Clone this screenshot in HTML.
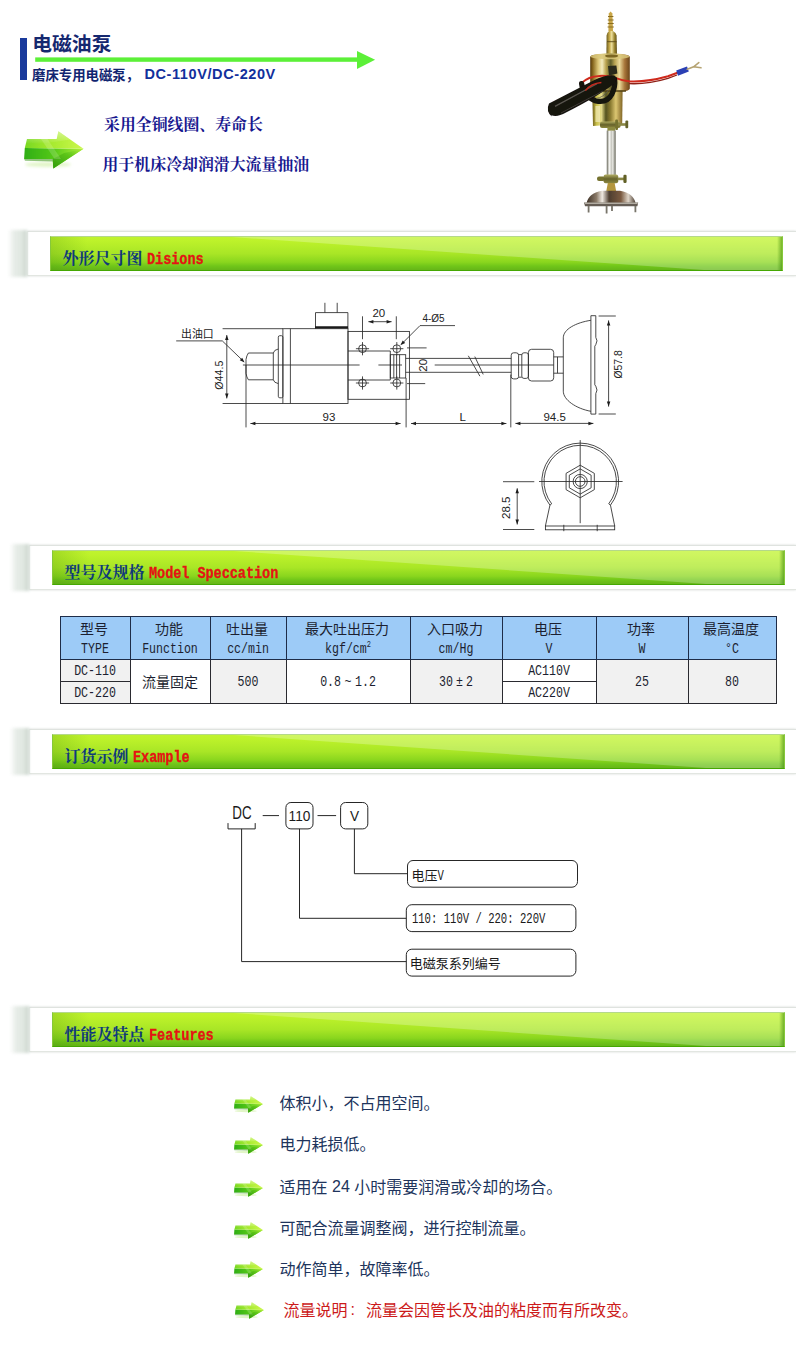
<!DOCTYPE html>
<html lang="zh-CN"><head><meta charset="utf-8"><title>电磁油泵 DC-110V/DC-220V</title>
<style>
*{box-sizing:border-box}
html,body{margin:0;padding:0;background:#fff}
html{width:796px;height:1364px;overflow:hidden}
body{width:796px;height:1364px;position:relative;overflow:hidden;font-family:"Liberation Sans",sans-serif;color:#222}
.abs{position:absolute}
.cj{position:absolute;display:block;white-space:nowrap;font-family:"Liberation Sans","Noto Sans CJK SC",sans-serif}
.cj.serif{font-family:"Liberation Serif","Noto Serif CJK SC",serif;font-weight:bold}
.lat{position:absolute;white-space:nowrap;line-height:1}
.hd{position:absolute;left:27px;right:0;height:45px;background:#fff;border-top:1px solid #dfe3df;border-bottom:1px solid #e2e6e1;border-left:1px solid #e9ede9;box-shadow:0 0 2px rgba(120,135,125,.32)}
.hd:before{content:"";position:absolute;left:-20px;top:-2px;bottom:-2px;width:19px;filter:blur(1.4px);background:linear-gradient(90deg,rgba(228,234,229,0) 0%,rgba(229,235,230,.95) 32%,#e0e7e1 72%,#c9d4cb 100%)}
.hd .bar{position:absolute;left:22px;top:4px;width:733px;height:35px;overflow:hidden;border:1px solid #86c83a;border-top-color:#b4d88a;border-bottom:1.5px solid #45a802;
 background:linear-gradient(180deg,#c0f32e 0%,#bdf22a 12%,#a9e626 50%,#8ad61e 76%,#70c619 88%,#66b618 100%)}
.hd .bar:before{content:"";position:absolute;left:0;top:0;width:36px;height:100%;background:linear-gradient(90deg,rgba(60,130,10,.22),rgba(60,130,10,0))}
.hd .bar:after{content:"";position:absolute;right:0;top:0;width:5px;height:100%;background:linear-gradient(270deg,rgba(50,130,0,.55),rgba(60,130,10,0))}
.hd .mono{position:absolute;font-family:"Liberation Mono",monospace;font-weight:bold;color:#e41414;white-space:nowrap;line-height:1;transform-origin:0 100%}

.hd .gloss{position:absolute;left:0;top:0;width:100%;height:100%;background:rgba(255,255,255,.25);clip-path:polygon(180px 0,100% 0,100% 100%,653px 100%)}

.spec{position:absolute;left:59.5px;top:616px;border-collapse:collapse;table-layout:fixed;width:716px}
.spec td{position:relative;padding:0;border:1px solid #2a2a30;background:#fff}
.spec tr.h td{height:43px;background:#9dcbf7;border-color:#1e2c48}
.spec tr.r td{height:22px}
.spec td.g{background:#f1f1f1}
.spec .m{position:absolute;left:50%;white-space:nowrap;line-height:1;font-family:"Liberation Mono",monospace;font-size:11.6px;color:#1c1f30;transform:translateX(-50%) scaleY(1.26);transform-origin:50% 100%}
</style></head>
<body>
<div class="abs" style="left:20.4px;top:38px;width:7px;height:41.6px;background:#1a3a9c"></div>
<span class="cj" style="left:32.3px;top:33.38px;width:79.2px;height:22.97px;line-height:22.97px;font-size:19.8px;font-weight:bold;color:#15286f">电磁油泵</span>
<svg class="abs" style="left:33px;top:48px" width="346" height="24" viewBox="0 0 346 24"><rect x="2.2" y="9.4" width="324" height="4.4" fill="#5cf038"/><path d="M324 2.9 L342.1 11.8 L324 20.9Z" fill="#5cf038"/></svg>
<span class="cj" style="left:32px;top:68.21px;width:108.16px;height:15.54px;line-height:15.54px;font-size:13.4px;font-weight:bold;color:#112570">磨床专用电磁泵，</span>
<span class="cj" style="left:144.4px;top:66.15px;width:132.19px;height:16.82px;line-height:16.82px;font-size:14.5px;font-weight:bold;letter-spacing:.6px;color:#12309c">DC-110V/DC-220V</span>
<svg width="0" height="0" style="position:absolute" aria-hidden="true"><defs>
<linearGradient id="aT" x1="0" y1="0" x2="1" y2="0"><stop offset="0" stop-color="#78d822"/><stop offset=".45" stop-color="#a6ea2e"/><stop offset="1" stop-color="#ccf84e"/></linearGradient>
<linearGradient id="aF" x1="0" y1="0" x2="1" y2="0"><stop offset="0" stop-color="#2fae12"/><stop offset=".5" stop-color="#55c818"/><stop offset="1" stop-color="#b2f03c"/></linearGradient>
<linearGradient id="aU" x1="0" y1="1" x2="1" y2="0"><stop offset="0" stop-color="#2f9a0c"/><stop offset=".6" stop-color="#5fc71a"/><stop offset="1" stop-color="#b6f23e"/></linearGradient>
<linearGradient id="aG" x1="0" y1="0" x2="0" y2="1"><stop offset="0" stop-color="#fff" stop-opacity=".45"/><stop offset="1" stop-color="#fff" stop-opacity="0"/></linearGradient>
<filter id="aB" x="-20%" y="-50%" width="140%" height="200%"><feGaussianBlur stdDeviation="1.6"/></filter>
<filter id="aS" x="-5%" y="-5%" width="110%" height="110%"><feGaussianBlur stdDeviation=".35"/></filter>
<symbol id="arrow3d" viewBox="0 0 62 46" preserveAspectRatio="none">
 <ellipse cx="24" cy="33.5" rx="23" ry="2.6" fill="#c4ec90" opacity=".5" filter="url(#aB)"/>
 <g filter="url(#aS)">
 <path d="M0.8 16.9 L59.5 17.7 L29.3 37.4 L28.7 28 L0.1 28Z" fill="url(#aF)"/>
 <path d="M28.7 28 L29.3 37.4 L59.5 17.7 L40 22Z" fill="url(#aU)"/>
 <path d="M3 8.1 L32.7 8.1 L34.4 0.3 L59.5 17.7 L0.8 16.9Z" fill="url(#aT)"/>
 <path d="M3 8.1 L32.7 8.1 L34.4 0.3 L46 8.6 L20 12.8 L1.8 12.8Z" fill="url(#aG)"/>
 <path d="M0.1 28 L28.7 28 L28.9 30.4 L1 29.8Z" fill="#2a8c0a" opacity=".5"/>
 <path d="M17 8.1 L23.5 8.1 L37 28 L30.5 28Z" fill="#fff" opacity=".16"/>
 </g>
</symbol></defs></svg>
<svg class="abs" style="left:24px;top:131px" width="62" height="46"><use href="#arrow3d" width="62" height="46"/></svg>
<span class="cj serif" style="left:104px;top:116.41px;width:159px;height:18.44px;line-height:18.44px;font-size:15.9px;color:#17178f">采用全铜线圈、寿命长</span>
<span class="cj serif" style="left:102.6px;top:156.41px;width:206.7px;height:18.44px;line-height:18.44px;font-size:15.9px;color:#17178f">用于机床冷却润滑大流量抽油</span>
<svg class="abs" style="left:530px;top:0" width="200" height="226" viewBox="530 0 200 226" role="img" aria-label="电磁油泵">
<defs>
<linearGradient id="pB" x1="0" y1="0" x2="1" y2="0"><stop offset="0" stop-color="#553a0e"/><stop offset=".07" stop-color="#8a6a22"/><stop offset=".2" stop-color="#dcc676"/><stop offset=".3" stop-color="#f3ebbe"/><stop offset=".4" stop-color="#b9a24e"/><stop offset=".52" stop-color="#60602c"/><stop offset=".62" stop-color="#b9a452"/><stop offset=".74" stop-color="#ead99a"/><stop offset=".87" stop-color="#a8763a"/><stop offset="1" stop-color="#6a4418"/></linearGradient>
<linearGradient id="pB2" x1="0" y1="0" x2="1" y2="0"><stop offset="0" stop-color="#6b5a1c"/><stop offset=".14" stop-color="#c9c04a"/><stop offset=".3" stop-color="#e6dc8a"/><stop offset=".45" stop-color="#55521f"/><stop offset=".6" stop-color="#8a7a30"/><stop offset=".78" stop-color="#dcc672"/><stop offset="1" stop-color="#806424"/></linearGradient>
<linearGradient id="pB3" x1="0" y1="0" x2="1" y2="0"><stop offset="0" stop-color="#6b5a1c"/><stop offset=".3" stop-color="#c9ad4c"/><stop offset=".5" stop-color="#ecdf9e"/><stop offset=".75" stop-color="#a08a34"/><stop offset="1" stop-color="#5e4e18"/></linearGradient>
<linearGradient id="pO" x1="0" y1="0" x2="0" y2="1"><stop offset="0" stop-color="#b0ac62"/><stop offset=".5" stop-color="#66622a"/><stop offset="1" stop-color="#8c8840"/></linearGradient>
<linearGradient id="pG" x1="0" y1="0" x2="1" y2="0"><stop offset="0" stop-color="#8e8e84"/><stop offset=".3" stop-color="#f4f4f0"/><stop offset=".7" stop-color="#deded8"/><stop offset="1" stop-color="#86867c"/></linearGradient>
<linearGradient id="pD" x1="0" y1="0" x2="1" y2="0"><stop offset="0" stop-color="#3c3026"/><stop offset=".2" stop-color="#8a7a68"/><stop offset=".32" stop-color="#efe9e2"/><stop offset=".46" stop-color="#4e3e30"/><stop offset=".7" stop-color="#7a5a40"/><stop offset=".85" stop-color="#ded4c8"/><stop offset="1" stop-color="#4a3c30"/></linearGradient>
<filter id="pF" x="-5%" y="-5%" width="110%" height="110%"><feGaussianBlur stdDeviation=".6"/></filter>
</defs>
<g filter="url(#pF)">
 <path d="M608.4 31 L608.8 13.4 L610.6 11.4 L612.4 13.4 L613 31Z" fill="#c9a646"/>
 <path d="M608 16.5h5.4M607.8 20h5.8M607.7 23.5h6M607.6 27h6.2" stroke="#8a6e24" stroke-width="1.1"/>
 <path d="M606.4 54.5 L606.6 35.4 Q606.8 32.6 609 31 L613 31 Q616.2 32.6 616.6 35.4 L617 54.5Z" fill="url(#pB3)"/>
 <path d="M607 41.6h9.6" stroke="#5e4c18" stroke-width="1.3" opacity=".75"/>
 <path d="M590.2 57 Q590.2 53.4 610.2 53.4 Q629.8 53.4 629.8 57 L629.8 88.4 Q629.8 92 610.2 92 Q590.2 92 590.2 88.4Z" fill="url(#pB)"/>
 <ellipse cx="610" cy="56.4" rx="19.6" ry="2.8" fill="#d9c77a" opacity=".85"/>
 <ellipse cx="611.6" cy="56" rx="6.6" ry="1.6" fill="#7c6622"/>
 <path d="M592.2 90.4 L622.6 90.4 L622.2 124 L593 126 Z" fill="url(#pB2)"/>
 <path d="M592 91 L626 91" stroke="#4c3c12" stroke-width="1.8" opacity=".7"/>
 <rect x="595.4" y="106" width="4.6" height="16" fill="#f4ecc0" opacity=".65"/>
 <path d="M608 66 L616.4 65.6 L617.4 73.6 L609 75.4Z" fill="#2a2a1a"/>
 <rect x="600" y="121.4" width="20.6" height="6.6" rx="2" fill="url(#pO)"/>
 <rect x="615.2" y="119.4" width="2.8" height="10.6" rx="1" fill="#74722e"/>
 <rect x="618" y="123.2" width="8.4" height="2.6" fill="#8a8844"/>
 <rect x="625.4" y="120.6" width="2.8" height="7.6" rx="1" fill="#64622a"/>
 <rect x="607.4" y="127" width="7.6" height="5" fill="#8c8a40"/>
 <rect x="607" y="130.6" width="8.4" height="45" fill="url(#pG)"/>
 <path d="M607.2 130.6v45M615.2 130.6v45" stroke="#86867a" stroke-width="1"/>
 <path d="M611.2 131v44" stroke="#b4b4aa" stroke-width=".8"/>
 <rect x="597" y="176.6" width="8" height="4.4" rx="2" fill="#74722e"/>
 <rect x="603.6" y="174.6" width="14.6" height="8.6" rx="2" fill="url(#pO)"/>
 <rect x="617.6" y="177.6" width="7" height="2.6" fill="#8a8844"/>
 <rect x="623.4" y="174.8" width="3.2" height="8.2" rx="1.2" fill="#626028"/>
 <path d="M607.8 183 L614.6 183 L616.2 191.6 L606.2 191.6Z" fill="#b4963e"/>
 <path d="M586.6 203.4 Q588 193.6 602 190.8 L620 190.8 Q634 193.6 635.6 203.4Z" fill="url(#pD)"/>
 <path d="M584 202.6 L638.2 202.6 L637.4 206.2 L585 206.2Z" fill="#655d54"/>
 <path d="M585 203.2 L637.6 203.2" stroke="#d6d0c6" stroke-width="1"/>
 <path d="M588.6 206v6.4M606.6 206v7.4M612 206v5M635.4 206v6.2" stroke="#78746a" stroke-width="1.8"/>
 <path d="M629 81.6 Q647 82.6 668 76.3 L677 73" fill="none" stroke="#8e2018" stroke-width="1.3" transform="translate(0 2)"/>
 <path d="M581.7 83 Q588 76.4 599.8 75.9 Q608 75.6 613.7 77.4 Q622 80.6 629.7 81.4 Q647 82.2 668 76.3 L677.4 72.8" fill="none" stroke="#cf2a1e" stroke-width="2" stroke-linecap="round"/>
 <path d="M676.2 70.4 L687 66.4 L688.8 71.6 L678 75.8Z" fill="#2b3fb4"/>
 <path d="M687.2 69.2 L693.6 66.8 L698.8 62.6 M693.6 66.8 L701 67.8" fill="none" stroke="#b5a372" stroke-width="1.6" stroke-linecap="round"/>
 <path d="M581.6 83.6 Q583 96 596 101 Q607 103.4 612 94 Q615.6 86 614.6 79" fill="none" stroke="#15120e" stroke-width="5.2" stroke-linecap="round"/>
 <path d="M551.8 116.6 Q545.6 111 549 103.4 L594 80.2 Q606 74.4 614.4 75.4 Q618.6 79.4 613 84.6 Q598 96.4 566 112.6 Q557 117.6 551.4 115.2Z" fill="#15120e"/>
 <path d="M555 106.4 L597 83.8" stroke="#66635a" stroke-width="1.3" opacity=".85"/>
 <path d="M561 113 L603 91" stroke="#46433c" stroke-width="1" opacity=".85"/>
 <path d="M585.4 90.6 Q591 83.6 601.4 82.6" fill="none" stroke="#c42a1e" stroke-width="1.5"/>
 <path d="M596 98.4 Q603 98 608.6 90" fill="none" stroke="#5c5950" stroke-width="1" opacity=".8"/>
</g></svg>
<div class="hd" style="top:231px;left:27px"><div class="bar"><div class="gloss"></div></div><span class="cj serif" style="left:34.6px;top:18.22px;width:80px;height:18.56px;line-height:18.56px;font-size:16px;color:#0f3a7a">外形尺寸图</span><span class="mono" style="left:119px;top:22.9px;font-size:13.4px;letter-spacing:.04px;-webkit-text-stroke:.3px #e41414;transform:scale(1,1.2)">Disions</span></div>
<svg class="abs" style="left:170px;top:295px" width="470" height="245" viewBox="170 295 470 245" font-family="'Liberation Sans',sans-serif" fill="#222"><style>.l{fill:none;stroke:#2b2b2b;stroke-width:.85}.f{fill:#1c1c1c;stroke:none}</style><path d="M273.3 353H248.4Q246.6 355.6 246 359.4V373.4Q246.6 377.2 248.4 379.8H273.3Z" class="l"/><path d="M273.3 353Q274 349.8 278.3 349M273.3 379.8Q274 382.8 278.3 383.6" class="l"/><rect x="278.3" y="335.7" width="4.6" height="62.1" rx="1.5" class="l"/><rect x="282.9" y="328.7" width="65.1" height="74.8" class="l"/><path d="M290.4 328.7V403.5" class="l"/><path d="M315.5 328.6V312.6H347.9V328.6" class="l"/><path d="M315 327.3H348" stroke="#1a1a1a" stroke-width="2.3" fill="none"/><path d="M324.9 302.8V312.6M337.2 302.8V312.6" class="l"/><rect x="348" y="331.4" width="61.4" height="67.9" class="l"/><path d="M348 351H390.3V380H348" class="l"/><rect x="390.3" y="354.7" width="15.4" height="23.3" class="l"/><path d="M393.8 354.7V378M396.6 354.7V378M399.6 354.7V378" class="l"/><circle cx="362.5" cy="348.7" r="3.9" class="l"/><path d="M355.9 348.7H369.1M362.5 342.1V355.3" class="l"/><circle cx="396.8" cy="348.7" r="3.9" class="l"/><path d="M390.2 348.7H403.4M396.8 342.1V355.3" class="l"/><circle cx="362.5" cy="383" r="3.9" class="l"/><path d="M355.9 383H369.1M362.5 376.4V389.6" class="l"/><circle cx="396.8" cy="383" r="3.9" class="l"/><path d="M390.2 383H403.4M396.8 376.4V389.6" class="l"/><path d="M242.9 365H359.6M378.4 365H402M434.7 365H553.7" class="l"/><path d="M405.7 358.4H511.2M405.7 372.3H511.2" class="l"/><path d="M468.3 355.8L479.9 376.2M474.8 356.6L483.2 374.4" class="l"/><path d="M407 347.9H426.6M407 383.6H425.2" class="l"/><rect x="511.2" y="352.8" width="7.4" height="26.1" rx="2.4" class="l"/><path d="M518.6 354.6H521.8M518.6 377.2H521.8" class="l"/><rect x="521.8" y="352.8" width="6.6" height="25.6" rx="2.2" class="l"/><rect x="528.4" y="349.3" width="25.3" height="31.7" rx="3.2" class="l"/><path d="M553.7 356.9H563.3M553.7 373.2H563.3M557.5 356.9V373.2" class="l"/><path d="M590.9 320.3C576 322.6 563.3 329.2 563.3 337.8V391.2C563.3 399.8 576 408.6 590.9 411.3" class="l"/><path d="M590.9 315.7H595.8V337.4Q598.2 340.6 595.8 344.6L594.8 346.2V384.8L595.8 386.2Q598.2 390.2 595.8 393.6V414.1H590.9Z" class="l"/><path d="M222.6 328.7H283M222.6 403.5H283" class="l"/><path d="M226.8 335.1L226.8 398.4" class="l"/><path d="M226.8 335.1L228.55 340.1L225.05 340.1ZM226.8 398.4L225.05 393.4L228.55 393.4Z" class="f"/><path d="M176.2 340.9H222.3L243.4 361.2" class="l"/><path d="M244.6 362.4L239.79 360.19L242.22 357.67Z" class="f"/><path d="M246 365V427.4M406.1 378V427.4M510.8 374.6V427.4" class="l"/><path d="M250.4 423.5L400.6 423.5" class="l"/><path d="M250.4 423.5L255.4 421.75L255.4 425.25ZM400.6 423.5L395.6 425.25L395.6 421.75Z" class="f"/><path d="M411 423.5L506.4 423.5" class="l"/><path d="M411 423.5L416 421.75L416 425.25ZM506.4 423.5L501.4 425.25L501.4 421.75Z" class="f"/><path d="M515.4 423.4L593.4 423.4" class="l"/><path d="M515.4 423.4L520.4 421.65L520.4 425.15ZM593.4 423.4L588.4 425.15L588.4 421.65Z" class="f"/><path d="M362.5 316.3V339.2M396.3 316.3V339.2" class="l"/><path d="M368.4 321.7L391.6 321.7" class="l"/><path d="M368.4 321.7L373.4 319.95L373.4 323.45ZM391.6 321.7L386.6 323.45L386.6 319.95Z" class="f"/><path d="M455 325.6H420L401.6 344" class="l"/><path d="M400.4 345.2L402.7 340.43L405.17 342.9Z" class="f"/><path d="M598.6 316H615.8M598.6 414H615.8" class="l"/><path d="M608.6 320.4L608.6 406.6" class="l"/><path d="M608.6 320.4L610.35 325.4L606.85 325.4ZM608.6 406.6L606.85 401.6L610.35 401.6Z" class="f"/><path d="M549.94 505.14A38.4 38.4 0 1 1 610.46 505.14" class="l"/><path d="M551.67 503.79A36.2 36.2 0 1 1 608.73 503.79" class="l"/><path d="M551.67 503.79L549.94 505.14L545.4 526M608.73 503.79L610.46 505.14L614.7 526" class="l"/><rect x="545.4" y="526" width="69.3" height="3.8" class="l"/><path d="M563.8 524.8V531.2M597.2 524.8V531.2" class="l"/><path d="M580.2 465.2L594.32 473.35L594.32 489.65L580.2 497.8L566.08 489.65L566.08 473.35Z" class="l"/><path d="M580.2 468.9L591.11 475.2L591.11 487.8L580.2 494.1L569.29 487.8L569.29 475.2Z" class="l"/><circle cx="580.2" cy="481.5" r="7.1" class="l"/><circle cx="580.2" cy="481.5" r="4.8" class="l"/><path d="M539 481.5H622.6M580.2 440.1V523.2" class="l"/><path d="M503 481.7H534.3M503 529.5H534.3" class="l"/><path d="M517.2 488.3L517.2 524.5" class="l"/><path d="M517.2 488.3L518.95 493.3L515.45 493.3ZM517.2 524.5L515.45 519.5L518.95 519.5Z" class="f"/><text x="329" y="421" font-size="11.5" text-anchor="middle">93</text><text x="462.6" y="421" font-size="11.5" text-anchor="middle">L</text><text x="554.6" y="421.2" font-size="11.5" text-anchor="middle">94.5</text><text x="378.8" y="316.8" font-size="11.5" text-anchor="middle">20</text><text x="422.4" y="322" font-size="11.5" text-anchor="start" textLength="22.2" lengthAdjust="spacingAndGlyphs">4-&#216;5</text><text x="427.4" y="365.3" font-size="11.5" text-anchor="middle" transform="rotate(-90 427.4 365.3)">20</text><text x="222.8" y="375.2" font-size="11.5" text-anchor="middle" transform="rotate(-90 222.8 375.2)" textLength="29" lengthAdjust="spacingAndGlyphs">&#216;44.5</text><text x="621.6" y="364.4" font-size="11.5" text-anchor="middle" transform="rotate(-90 621.6 364.4)" textLength="28.4" lengthAdjust="spacingAndGlyphs">&#216;57.8</text><text x="509.8" y="507.8" font-size="11.5" text-anchor="middle" transform="rotate(-90 509.8 507.8)">28.5</text></svg>
<span class="cj" style="left:181px;top:327.81px;width:32.7px;height:12.64px;line-height:12.64px;font-size:10.9px;color:#222">出油口</span>
<div class="hd" style="top:545px;left:29px"><div class="bar"><div class="gloss"></div></div><span class="cj serif" style="left:34.6px;top:18.22px;width:80px;height:18.56px;line-height:18.56px;font-size:16px;color:#0f3a7a">型号及规格</span><span class="mono" style="left:119px;top:22.9px;font-size:13.4px;letter-spacing:.04px;-webkit-text-stroke:.3px #e41414;transform:scale(1,1.2)">Model Speccation</span></div>
<table class="spec"><colgroup><col style="width:70px"><col style="width:80px"><col style="width:76px"><col style="width:124px"><col style="width:92px"><col style="width:94px"><col style="width:92px"><col style="width:88px"></colgroup><tr class="h"><td><span class="cj" style="left:50%;margin-left:-15px;top:3.58px;width:28px;height:16.24px;line-height:16.24px;font-size:14px;color:#1c1f30">型号</span><span class="m" style="top:28.25px;">TYPE</span></td><td><span class="cj" style="left:50%;margin-left:-15px;top:3.58px;width:28px;height:16.24px;line-height:16.24px;font-size:14px;color:#1c1f30">功能</span><span class="m" style="top:28.25px;">Function</span></td><td><span class="cj" style="left:50%;margin-left:-22px;top:3.58px;width:42px;height:16.24px;line-height:16.24px;font-size:14px;color:#1c1f30">吐出量</span><span class="m" style="top:28.25px;">cc/min</span></td><td><span class="cj" style="left:50%;margin-left:-43px;top:3.58px;width:84px;height:16.24px;line-height:16.24px;font-size:14px;color:#1c1f30">最大吐出压力</span><span class="m" style="top:28.25px;">kgf/cm<sup style="font-size:7px;line-height:0;vertical-align:5px">2</sup></span></td><td><span class="cj" style="left:50%;margin-left:-29px;top:3.58px;width:56px;height:16.24px;line-height:16.24px;font-size:14px;color:#1c1f30">入口吸力</span><span class="m" style="top:28.25px;">cm/Hg</span></td><td><span class="cj" style="left:50%;margin-left:-15px;top:3.58px;width:28px;height:16.24px;line-height:16.24px;font-size:14px;color:#1c1f30">电压</span><span class="m" style="top:28.25px;">V</span></td><td><span class="cj" style="left:50%;margin-left:-15px;top:3.58px;width:28px;height:16.24px;line-height:16.24px;font-size:14px;color:#1c1f30">功率</span><span class="m" style="top:28.25px;">W</span></td><td><span class="cj" style="left:50%;margin-left:-29px;top:3.58px;width:56px;height:16.24px;line-height:16.24px;font-size:14px;color:#1c1f30">最高温度</span><span class="m" style="top:28.25px;">&#176;C</span></td></tr><tr class="r"><td class="g"><span class="m" style="top:7.05px;">DC-110</span></td><td rowspan="2"><span class="cj" style="left:50%;margin-left:-28px;top:13.88px;width:56px;height:16.24px;line-height:16.24px;font-size:14px;color:#1c1f30">流量固定</span></td><td rowspan="2" class="g"><span class="m" style="top:18.05px;">500</span></td><td rowspan="2"><span class="m" style="top:18.05px;">0.8<span style="display:inline-block;width:14px;text-align:center">~</span>1.2</span></td><td rowspan="2" class="g"><span class="m" style="top:18.05px;">30<span style="display:inline-block;width:13px;text-align:center">&#177;</span>2</span></td><td><span class="m" style="top:7.05px;">AC110V</span></td><td rowspan="2" class="g"><span class="m" style="top:18.05px;">25</span></td><td rowspan="2" class="g"><span class="m" style="top:18.05px;">80</span></td></tr><tr class="r"><td class="g"><span class="m" style="top:7.05px;">DC-220</span></td><td><span class="m" style="top:7.05px;">AC220V</span></td></tr></table>
<div class="hd" style="top:729px;left:29px"><div class="bar"><div class="gloss"></div></div><span class="cj serif" style="left:34.6px;top:18.22px;width:64px;height:18.56px;line-height:18.56px;font-size:16px;color:#0f3a7a">订货示例</span><span class="mono" style="left:103px;top:22.9px;font-size:13.4px;letter-spacing:.04px;-webkit-text-stroke:.3px #e41414;transform:scale(1,1.2)">Example</span></div>
<svg class="abs" style="left:220px;top:795px" width="370" height="190" viewBox="220 795 370 190" fill="#1a1a1a"><style>.k{fill:none;stroke:#262626;stroke-width:1}</style><path d="M228 823.1V828.9H255.2V823.1" class="k"/><path d="M241.6 828.9V961.6H406.3M299.5 828.9V918.3H406.3M354.4 828.9V873.7H407.5" class="k"/><path d="M262.7 815.6H279M317.5 815.6H336.1" class="k"/><rect x="285.9" y="802.5" width="27.1" height="26.4" rx="5" class="k"/><rect x="340.6" y="802.5" width="27.2" height="26.4" rx="5" class="k"/><rect x="407.5" y="860.5" width="170" height="26.7" rx="5.5" class="k"/><rect x="406.3" y="904.7" width="169.6" height="26.9" rx="5.5" class="k"/><rect x="406.3" y="949.2" width="169.6" height="26.9" rx="5.5" class="k"/><text transform="translate(242 818.9) scale(0.76 1)" font-family="'Liberation Sans'" font-size="17.6" text-anchor="middle" xml:space="preserve">DC</text><text transform="translate(299.5 820.9) scale(0.9 1)" font-family="'Liberation Sans'" font-size="15.2" text-anchor="middle" xml:space="preserve">110</text><text transform="translate(354.5 820.9) scale(0.9 1)" font-family="'Liberation Sans'" font-size="15.2" text-anchor="middle" xml:space="preserve">V</text><text transform="translate(437.6 880.2) scale(1 1.3)" font-family="'Liberation Mono'" font-size="10.6" text-anchor="start" xml:space="preserve">V</text><text transform="translate(411.9 922.8) scale(1 1.3)" font-family="'Liberation Mono'" font-size="10.6" text-anchor="start" xml:space="preserve">110: 110V / 220: 220V</text></svg>
<span class="cj" style="left:411.4px;top:868.36px;width:26px;height:15.08px;line-height:15.08px;font-size:13px;color:#1a1a1a">电压</span>
<span class="cj" style="left:409.8px;top:956.16px;width:91px;height:15.08px;line-height:15.08px;font-size:13px;color:#1a1a1a">电磁泵系列编号</span>
<div class="hd" style="top:1007px;left:29px"><div class="bar"><div class="gloss"></div></div><span class="cj serif" style="left:34.6px;top:18.22px;width:80px;height:18.56px;line-height:18.56px;font-size:16px;color:#0f3a7a">性能及特点</span><span class="mono" style="left:119px;top:22.9px;font-size:13.4px;letter-spacing:.04px;-webkit-text-stroke:.3px #e41414;transform:scale(1,1.2)">Features</span></div>
<svg class="abs" style="left:233.5px;top:1096.2px" width="30.17" height="20.58"><use href="#arrow3d" width="30.17" height="20.58"/></svg>
<span class="cj" style="left:279.6px;top:1094.82px;width:160px;height:18.56px;line-height:18.56px;font-size:16px;color:#20345c">体积小，不占用空间。</span>
<svg class="abs" style="left:233.5px;top:1136.5px" width="30.17" height="20.58"><use href="#arrow3d" width="30.17" height="20.58"/></svg>
<span class="cj" style="left:279.6px;top:1136.32px;width:96px;height:18.56px;line-height:18.56px;font-size:16px;color:#20345c">电力耗损低。</span>
<svg class="abs" style="left:233.5px;top:1180px" width="30.17" height="20.58"><use href="#arrow3d" width="30.17" height="20.58"/></svg>
<span class="cj" style="left:279.6px;top:1179.32px;width:48px;height:18.56px;line-height:18.56px;font-size:16px;color:#20345c">适用在</span>
<span class="lat" style="left:327.6px;top:1178.9px;font-size:16px;color:#20345c;white-space:pre"> 24 </span>
<span class="cj" style="left:354.3px;top:1179.32px;width:208px;height:18.56px;line-height:18.56px;font-size:16px;color:#20345c">小时需要润滑或冷却的场合。</span>
<svg class="abs" style="left:233.5px;top:1221.5px" width="30.17" height="20.58"><use href="#arrow3d" width="30.17" height="20.58"/></svg>
<span class="cj" style="left:279.6px;top:1220.12px;width:256px;height:18.56px;line-height:18.56px;font-size:16px;color:#20345c">可配合流量调整阀，进行控制流量。</span>
<svg class="abs" style="left:233.5px;top:1260.6px" width="30.17" height="20.58"><use href="#arrow3d" width="30.17" height="20.58"/></svg>
<span class="cj" style="left:279.6px;top:1261.12px;width:160px;height:18.56px;line-height:18.56px;font-size:16px;color:#20345c">动作简单，故障率低。</span>
<svg class="abs" style="left:234.8px;top:1302.3px" width="30.17" height="20.58"><use href="#arrow3d" width="30.17" height="20.58"/></svg>
<span class="cj" style="left:283.4px;top:1302.32px;width:64px;height:18.56px;line-height:18.56px;font-size:16px;color:#cc1a1a">流量说明</span>
<span class="lat" style="left:350.4px;top:1301.9px;font-size:16px;color:#cc1a1a">:</span>
<span class="cj" style="left:366px;top:1302.32px;width:272px;height:18.56px;line-height:18.56px;font-size:16px;color:#cc1a1a">流量会因管长及油的粘度而有所改变。</span>
</body></html>
